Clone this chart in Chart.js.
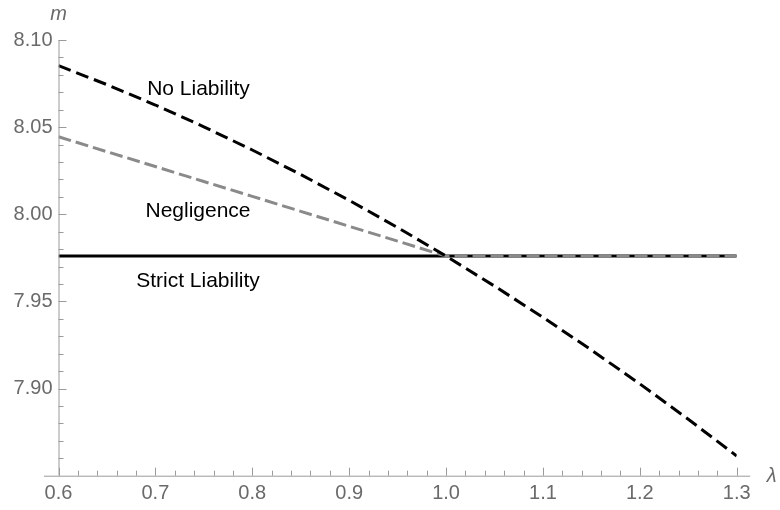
<!DOCTYPE html>
<html>
<head>
<meta charset="utf-8">
<script src="https://cdn.jsdelivr.net/npm/chart.js@4"></script>
<style>
  html, body { margin: 0; padding: 0; background: #fff; }
  #wrap { width: 780px; height: 510px; }
</style>
</head>
<body>
<div id="wrap"><canvas id="grafico"></canvas></div>
<script>
const lambdas = [0.60, 0.65, 0.70, 0.75, 0.80, 0.85, 0.90, 0.95, 1.00, 1.05, 1.10, 1.15, 1.20, 1.25, 1.30];
const noLiability = [8.0853, 8.0744, 8.0627, 8.0502, 8.0369, 8.0228, 8.0080, 7.9924, 7.9760, 7.9588, 7.9409, 7.9221, 7.9027, 7.8824, 7.8613];
const negligence = [8.0445, 8.0359, 8.0274, 8.0188, 8.0103, 8.0017, 7.9931, 7.9846, 7.9760, 7.9760, 7.9760, 7.9760, 7.9760, 7.9760, 7.9760];
const strictLiability = [7.9760, 7.9760, 7.9760, 7.9760, 7.9760, 7.9760, 7.9760, 7.9760, 7.9760, 7.9760, 7.9760, 7.9760, 7.9760, 7.9760, 7.9760];
const xTicks = [0.6, 0.7, 0.8, 0.9, 1.0, 1.1, 1.2, 1.3];
const yTicks = [7.90, 7.95, 8.00, 8.05, 8.10];

const fonte = '"Liberation Sans", Arial, sans-serif';
const cinza = '#6a6a6a';
const eixoCor = '#9a9a9a';

const pontos = arr => arr.map((v, i) => ({ x: lambdas[i], y: v }));

// axes with inward ticks, Mathematica style
const eixos = {
    id: 'eixos',
    afterDraw(chart) {
        const { ctx, chartArea: a, scales: { x, y } } = chart;
        ctx.save();
        ctx.strokeStyle = eixoCor;
        ctx.lineWidth = 1;
        ctx.beginPath();
        ctx.moveTo(a.left - 14.5, a.bottom + 0.5);
        ctx.lineTo(a.right + 13.5, a.bottom + 0.5);
        ctx.moveTo(a.left + 0.5, a.top);
        ctx.lineTo(a.left + 0.5, a.bottom);
        for (let i = 0; i <= 35; i++) {
            const px = Math.round(x.getPixelForValue(0.6 + i * 0.02)) + 0.5;
            const len = i % 5 === 0 ? 8 : 5;
            ctx.moveTo(px, a.bottom);
            ctx.lineTo(px, a.bottom - len);
        }
        for (let i = 1; i <= 25; i++) {
            const py = Math.round(y.getPixelForValue(7.85 + i * 0.01)) + 0.5;
            const len = i % 5 === 0 ? 8 : 5;
            ctx.moveTo(a.left, py);
            ctx.lineTo(a.left + len, py);
        }
        ctx.stroke();

        ctx.fillStyle = cinza;
        ctx.font = 'italic 20px ' + fonte;
        ctx.textAlign = 'center';
        ctx.textBaseline = 'middle';
        ctx.fillText('m', a.left, 14);
        ctx.textAlign = 'left';
        ctx.fillText('λ', a.right + 30, a.bottom + 1);

        ctx.fillStyle = '#000';
        ctx.font = '21px ' + fonte;
        ctx.textAlign = 'center';
        ctx.fillText('No Liability', 198.5, 89);
        ctx.fillText('Negligence', 198, 211);
        ctx.fillText('Strict Liability', 198, 281);
        ctx.restore();
    }
};

const ctx = document.getElementById('grafico').getContext('2d');
const chart = new Chart(ctx, {
    type: 'line',
    data: {
        datasets: [
            {
                label: 'No Liability',
                data: pontos(noLiability),
                borderColor: '#000',
                borderWidth: 3,
                borderDash: [13, 6],
                pointRadius: 0,
                order: 1
            },
            {
                label: 'Negligence',
                data: pontos(negligence),
                borderColor: '#8a8a8a',
                borderWidth: 3,
                borderDash: [13, 5],
                pointRadius: 0,
                order: 2
            },
            {
                label: 'Strict Liability',
                data: pontos(strictLiability),
                borderColor: '#000',
                borderWidth: 3,
                pointRadius: 0,
                order: 3
            }
        ]
    },
    options: {
        responsive: true,
        maintainAspectRatio: false,
        animation: false,
        layout: { padding: { top: 40, right: 43.3, left: 0, bottom: 0 } },
        plugins: {
            legend: { display: false },
            tooltip: { enabled: false }
        },
        scales: {
            x: {
                type: 'linear',
                min: 0.6,
                max: 1.3,
                afterBuildTicks: s => { s.ticks = xTicks.map(v => ({ value: v })); },
                afterFit: s => { s.height = 34.3; },
                grid: { display: false, drawTicks: false },
                border: { display: false },
                ticks: {
                    padding: 6,
                    color: cinza,
                    font: { size: 20, family: fonte },
                    maxRotation: 0,
                    callback: v => v.toFixed(1)
                }
            },
            y: {
                min: 7.85,
                max: 8.10,
                afterBuildTicks: s => { s.ticks = yTicks.map(v => ({ value: v })); },
                afterFit: s => { s.width = 58.5; },
                grid: { display: false, drawTicks: false },
                border: { display: false },
                ticks: {
                    padding: 6,
                    color: cinza,
                    font: { size: 20, family: fonte },
                    callback: v => v.toFixed(2)
                }
            }
        }
    },
    plugins: [eixos]
});
</script>
</body>
</html>
